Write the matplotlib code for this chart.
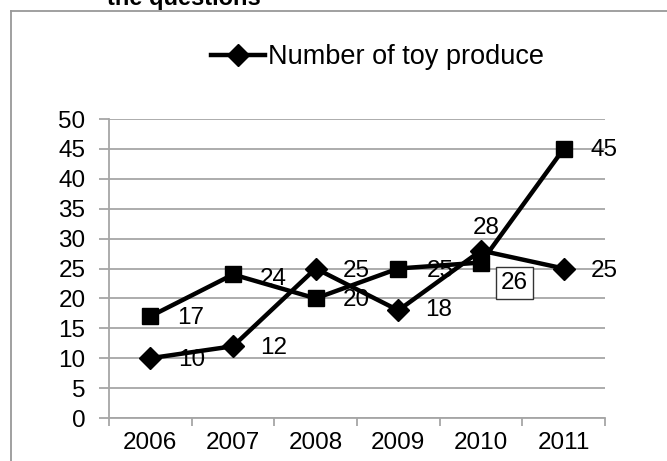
import matplotlib
matplotlib.use("Agg")
import matplotlib.pyplot as plt
from matplotlib.lines import Line2D

plt.rcParams['font.family'] = ['Liberation Sans', 'DejaVu Sans']

years = ['2006', '2007', '2008', '2009', '2010', '2011']
toys = [10, 12, 25, 18, 28, 25]          # diamond series (in legend)
other = [17, 24, 20, 25, 26, 45]         # square series
y_ticks = [0, 5, 10, 15, 20, 25, 30, 35, 40, 45, 50]

# label offsets in points (dx, dy)
toy_off = [(30, -1.5), (29, -1), (29, -1.5), (29, 0), (4, 16), (29, -1.5)]
oth_off = [(29, -1.5), (29, -3), (29, -1.5), (30, -1.5), (24, -15), (29, -1)]

W, H = 667, 461
fig = plt.figure(figsize=(W / 100, H / 100), dpi=100)
ax = fig.add_axes([109 / W, 1 - 418 / H, (605 - 109) / W, (418 - 119) / H])

x = list(range(len(years)))
grey = '#a6a6a6'
fs = 17.5

l1, = ax.plot(x, toys, color='black', lw=3.2, marker='D', ms=11, zorder=4,
              label='Number of toy produce')
l2, = ax.plot(x, other, color='black', lw=3.2, marker='s', ms=12, zorder=4)

for i, v in enumerate(toys):
    ax.annotate(str(v), (i, v), xytext=toy_off[i], textcoords='offset points',
                ha='center', va='center', fontsize=fs, zorder=2)
for i, v in enumerate(other):
    bb = None
    if i == 4:
        bb = dict(boxstyle='square,pad=0.2', fc='white', ec='#333333', lw=1)
    ax.annotate(str(v), (i, v), xytext=oth_off[i], textcoords='offset points',
                ha='center', va='center', fontsize=fs, zorder=2, bbox=bb)

ax.set_xlim(-0.5, len(years) - 0.5)
ax.set_ylim(0, 50)
ax.set_yticks(y_ticks)
ax.set_xticks(x)
ax.set_xticklabels(years)
ax.set_xticks([i - 0.5 for i in range(len(years) + 1)], minor=True)
ax.tick_params(axis='x', which='major', length=0, pad=10, labelsize=fs)
ax.tick_params(axis='x', which='minor', length=6, color=grey, width=1.3)
ax.tick_params(axis='y', length=7, color=grey, width=1.3, pad=10, labelsize=fs)

ax.grid(axis='y', color=grey, lw=1.3)
ax.set_axisbelow(True)
for s in ['top', 'right']:
    ax.spines[s].set_visible(False)
for s in ['left', 'bottom']:
    ax.spines[s].set_color(grey)
    ax.spines[s].set_linewidth(1.3)

fig.legend(handles=[l1], loc='center left', bbox_to_anchor=(211 / W, 1 - 57 / H),
           frameon=False, fontsize=19.5, handlelength=2.0, handletextpad=0.1,
           borderpad=0, borderaxespad=0)

# outer frame of the chart area
fig.add_artist(Line2D([11 / W, 11 / W], [0, 1 - 11 / H], color='#999999', lw=1.3,
                      transform=fig.transFigure))
fig.add_artist(Line2D([11 / W, 1], [1 - 11 / H, 1 - 11 / H], color='#999999', lw=1.3,
                      transform=fig.transFigure))

fig.text(107 / W, 1 - 5 / H, 'the questions', fontsize=17, fontweight='bold',
         ha='left', va='baseline')

fig.savefig('out.png', dpi=100)
